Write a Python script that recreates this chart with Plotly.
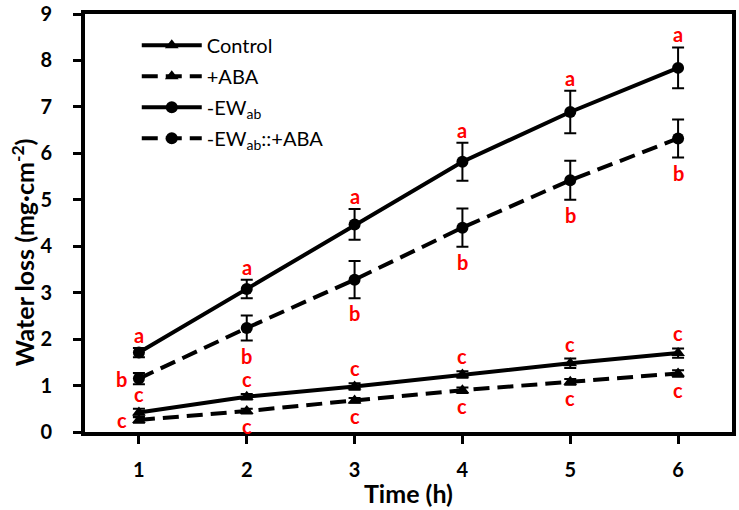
import plotly.graph_objects as go

# ---- data ----
time_h = [1, 2, 3, 4, 5, 6]
series_names = ["Control", "+ABA", "-EW<sub>ab</sub>", "-EW<sub>ab</sub>::+ABA"]
control = [0.42, 0.76, 0.98, 1.24, 1.48, 1.70]
control_err = [0.08, 0.06, 0.07, 0.07, 0.10, 0.10]
aba = [0.26, 0.45, 0.68, 0.90, 1.08, 1.26]
aba_err = [0.06, 0.05, 0.05, 0.06, 0.06, 0.07]
ew = [1.71, 3.08, 4.47, 5.82, 6.89, 7.84]
ew_err = [0.10, 0.20, 0.33, 0.41, 0.46, 0.44]
ew_aba = [1.15, 2.24, 3.28, 4.40, 5.42, 6.32]
ew_aba_err = [0.12, 0.27, 0.40, 0.41, 0.42, 0.41]
control_letters = ["c", "c", "c", "c", "c", "c"]
aba_letters = ["c", "c", "c", "c", "c", "c"]
ew_letters = ["a", "a", "a", "a", "a", "a"]
ew_aba_letters = ["b", "b", "b", "b", "b", "b"]
y_ticks = list(range(0, 10))
x_title = "Time (h)"
y_title = "Water loss (mg·cm<sup>-2</sup>)"

FONT = "Lato"
fig = go.Figure()

styles = [
    (control, control_err, "triangle-up", "solid", 12),
    (aba, aba_err, "triangle-up", "16px,8px", 12),
    (ew, ew_err, "circle", "solid", 12),
    (ew_aba, ew_aba_err, "circle", "16px,8px", 12),
]
for i, (vals, err, sym, dash, msize) in enumerate(styles):
    fig.add_trace(go.Scatter(
        x=time_h, y=vals, name=series_names[i], mode="lines+markers",
        line=dict(color="black", width=4, dash=dash),
        marker=dict(symbol=sym, size=msize, color="black"),
        error_y=dict(type="data", array=err, visible=True, color="black",
                     thickness=2, width=6),
        legendgroup=f"g{i}",
    ))

# significance letters
def add_letters(vals, err, letters, side, shift, first_left=False):
    for j, (x, v, e, t) in enumerate(zip(time_h, vals, err, letters)):
        if first_left and j == 0:
            fig.add_annotation(x=x, y=v, text=t, showarrow=False, xshift=-17,
                               font=dict(family=FONT, size=20, color="#ff0000", weight="bold"))
            continue
        yy = v + e if side == "above" else v - e
        fig.add_annotation(x=x, y=yy, text=t, showarrow=False, yshift=shift,
                           font=dict(family=FONT, size=20, color="#ff0000", weight="bold"))

add_letters(ew, ew_err, ew_letters, "above", 13)
add_letters(ew_aba, ew_aba_err, ew_aba_letters, "below", -15, first_left=True)
add_letters(control, control_err, control_letters, "above", 15)
add_letters(aba, aba_err, aba_letters, "below", -13, first_left=True)

# y-axis title as a rotated annotation (placed like the original)
fig.add_annotation(xref="paper", yref="paper", x=-0.096, y=0.43,
                   xanchor="center", yanchor="middle", textangle=-90,
                   text=y_title, showarrow=False,
                   font=dict(family=FONT, size=25, color="black", weight="bold"))

fig.update_layout(
    width=739, height=510,
    margin=dict(l=85, r=7, t=14, b=78),
    paper_bgcolor="white", plot_bgcolor="white",
    showlegend=True,
    legend=dict(x=0.08, y=0.972, xanchor="left", yanchor="top",
                bgcolor="rgba(0,0,0,0)", itemwidth=60, tracegroupgap=2,
                font=dict(family=FONT, size=20, color="black")),
    xaxis=dict(range=[0.5, 6.5], tickvals=time_h, ticktext=[str(t) for t in time_h],
               automargin=False,
               showgrid=False, zeroline=False, showline=True, linecolor="black",
               linewidth=4, mirror=True, ticks="outside", ticklen=8, tickwidth=3,
               tickcolor="black", ticklabelstandoff=9,
               tickfont=dict(family=FONT, size=20, color="black", weight="bold"),
               title=dict(text=x_title, standoff=6,
                          font=dict(family=FONT, size=25, color="black", weight="bold"))),
    yaxis=dict(range=[0, 9], tickvals=y_ticks, showgrid=False, zeroline=False,
               automargin=False, ticklabeloverflow="allow",
               showline=True, linecolor="black", linewidth=4, mirror=True,
               ticks="outside", ticklen=8, tickwidth=3, tickcolor="black",
               ticklabelstandoff=17,
               tickfont=dict(family=FONT, size=20, color="black", weight="bold")),
)

# remove the page's default body margin so the 739x510 figure fills the window
fig.write_html("out.html", config={"displayModeBar": False},
               post_script="document.body.style.margin='0';")
